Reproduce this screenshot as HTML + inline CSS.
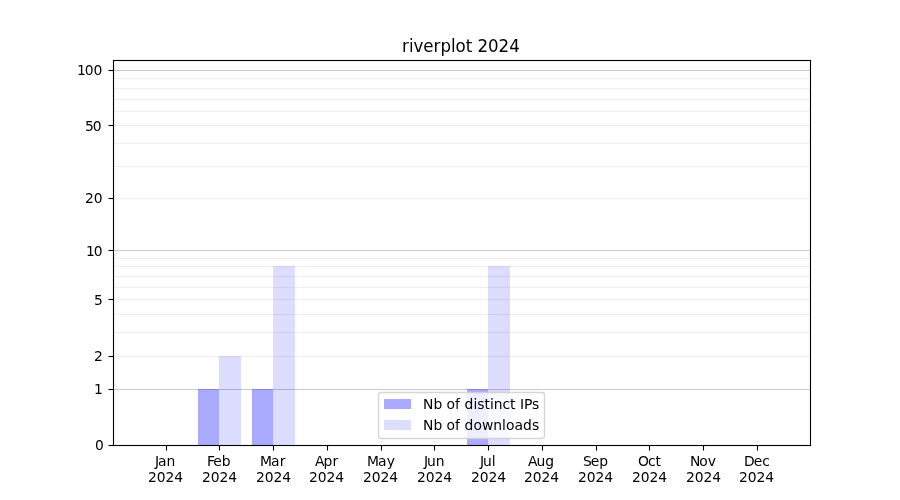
<!DOCTYPE html>
<html lang="en">
<head>
<meta charset="utf-8">
<title>riverplot 2024</title>
<style>
html,body{margin:0;padding:0;background:#fff;overflow:hidden}
svg{display:block;will-change:transform}
text{font-family:"DejaVu Sans","Liberation Sans",sans-serif;font-size:13.889px;fill:#000}
.t{font-size:16.667px}
.m{text-anchor:middle}
.e{text-anchor:end}
.ax{fill:#000}
.g1{fill:#ccc}
.g2{fill:#eee}
.b1{fill:#00f;fill-opacity:0.3333}
.b2{fill:#00f;fill-opacity:0.1333}
</style>
</head>
<body>
<svg width="900" height="500" viewBox="0 0 900 500">
<rect x="0" y="0" width="900" height="500" fill="#fff"/>
<g>
<rect class="g2" x="113.000" y="355.945" width="697.500" height="1.111"/>
<rect class="g2" x="113.000" y="331.945" width="697.500" height="1.111"/>
<rect class="g2" x="113.000" y="313.945" width="697.500" height="1.111"/>
<rect class="g2" x="113.000" y="298.945" width="697.500" height="1.111"/>
<rect class="g2" x="113.000" y="286.945" width="697.500" height="1.111"/>
<rect class="g2" x="113.000" y="275.945" width="697.500" height="1.111"/>
<rect class="g2" x="113.000" y="265.945" width="697.500" height="1.111"/>
<rect class="g2" x="113.000" y="257.945" width="697.500" height="1.111"/>
<rect class="g2" x="113.000" y="197.945" width="697.500" height="1.111"/>
<rect class="g2" x="113.000" y="165.945" width="697.500" height="1.111"/>
<rect class="g2" x="113.000" y="142.945" width="697.500" height="1.111"/>
<rect class="g2" x="113.000" y="124.945" width="697.500" height="1.111"/>
<rect class="g2" x="113.000" y="110.945" width="697.500" height="1.111"/>
<rect class="g2" x="113.000" y="98.945" width="697.500" height="1.111"/>
<rect class="g2" x="113.000" y="87.945" width="697.500" height="1.111"/>
<rect class="g2" x="113.000" y="77.945" width="697.500" height="1.111"/>
<rect class="g1" x="113.000" y="388.945" width="697.500" height="1.111"/>
<rect class="g1" x="113.000" y="249.945" width="697.500" height="1.111"/>
<rect class="g1" x="113.000" y="69.945" width="697.500" height="1.111"/>
</g>
<g>
<rect class="b1" x="198" y="389" width="21" height="56"/>
<rect class="b1" x="252" y="389" width="21" height="56"/>
<rect class="b1" x="467" y="389" width="21" height="56"/>
<rect class="b2" x="219" y="356" width="22" height="89"/>
<rect class="b2" x="273" y="266" width="22" height="179"/>
<rect class="b2" x="488" y="266" width="22" height="179"/>
</g>
<g>
<rect class="ax" x="165.945" y="445.000" width="1.111" height="5.500"/>
<rect class="ax" x="218.945" y="445.000" width="1.111" height="5.500"/>
<rect class="ax" x="272.945" y="445.000" width="1.111" height="5.500"/>
<rect class="ax" x="326.945" y="445.000" width="1.111" height="5.500"/>
<rect class="ax" x="380.945" y="445.000" width="1.111" height="5.500"/>
<rect class="ax" x="433.945" y="445.000" width="1.111" height="5.500"/>
<rect class="ax" x="487.945" y="445.000" width="1.111" height="5.500"/>
<rect class="ax" x="541.944" y="445.000" width="1.111" height="5.500"/>
<rect class="ax" x="595.944" y="445.000" width="1.111" height="5.500"/>
<rect class="ax" x="648.944" y="445.000" width="1.111" height="5.500"/>
<rect class="ax" x="702.944" y="445.000" width="1.111" height="5.500"/>
<rect class="ax" x="756.944" y="445.000" width="1.111" height="5.500"/>
<rect class="ax" x="108.500" y="444.945" width="5.000" height="1.111"/>
<rect class="ax" x="108.500" y="388.945" width="5.000" height="1.111"/>
<rect class="ax" x="108.500" y="355.945" width="5.000" height="1.111"/>
<rect class="ax" x="108.500" y="298.945" width="5.000" height="1.111"/>
<rect class="ax" x="108.500" y="249.945" width="5.000" height="1.111"/>
<rect class="ax" x="108.500" y="197.945" width="5.000" height="1.111"/>
<rect class="ax" x="108.500" y="124.945" width="5.000" height="1.111"/>
<rect class="ax" x="108.500" y="69.945" width="5.000" height="1.111"/>
<rect class="ax" x="112.945" y="59.944" width="1.111" height="386.111"/>
<rect class="ax" x="809.944" y="59.944" width="1.111" height="386.111"/>
<rect class="ax" x="112.945" y="59.944" width="698.111" height="1.111"/>
<rect class="ax" x="112.945" y="444.945" width="698.111" height="1.111"/>
</g>
<g>
<rect x="378.5" y="392.5" width="166" height="46" rx="2.78" ry="2.78" fill="#fff" fill-opacity="0.8" stroke="#ccc" stroke-opacity="0.8" stroke-width="1.389"/>
<rect class="b1" x="384" y="399" width="27" height="10"/>
<rect class="b2" x="384" y="420" width="27" height="10"/>
</g>
<g>
<text x="154.88 157.88 166.50" y="466">Jan</text>
<text x="148.00 156.75 165.50 174.25" y="482">2024</text>
<text x="207.00 213.25 221.75" y="466">Feb</text>
<text x="202.00 210.75 219.50 228.25" y="482">2024</text>
<text x="260.12 271.12 279.75" y="466">Mar</text>
<text x="256.00 264.75 273.50 282.25" y="482">2024</text>
<text x="315.00 323.50 332.38" y="466">Apr</text>
<text x="309.00 317.75 326.50 335.25" y="482">2024</text>
<text x="367.12 378.12 386.75" y="466">May</text>
<text x="363.00 371.75 380.50 389.25" y="482">2024</text>
<text x="424.00 427.00 435.75" y="466">Jun</text>
<text x="417.00 425.75 434.50 443.25" y="482">2024</text>
<text x="480.00 483.00 491.75" y="466">Jul</text>
<text x="471.00 479.75 488.50 497.25" y="482">2024</text>
<text x="528.00 536.50 545.25" y="466">Aug</text>
<text x="524.00 532.75 541.50 550.25" y="482">2024</text>
<text x="583.00 590.75 599.25" y="466">Sep</text>
<text x="578.00 586.75 595.50 604.25" y="482">2024</text>
<text x="638.00 647.88 655.50" y="466">Oct</text>
<text x="632.00 640.75 649.50 658.25" y="482">2024</text>
<text x="689.88 699.25 707.75" y="466">Nov</text>
<text x="686.00 694.75 703.50 712.25" y="482">2024</text>
<text x="744.00 753.75 762.25" y="466">Dec</text>
<text x="739.00 747.75 756.50 765.25" y="482">2024</text>
<text x="94.88" y="450">0</text>
<text x="93.88" y="394">1</text>
<text x="93.88" y="361">2</text>
<text x="93.88" y="305">5</text>
<text x="85.88 93.75" y="256">10</text>
<text x="85.00 93.75" y="203">20</text>
<text x="85.00 92.75" y="131">50</text>
<text x="76.88 84.75 93.50" y="75">100</text>
<text class="t" transform="translate(402.00 52) scale(1 1.04)" x="0.00 6.88 11.50 21.38 31.62 38.50 49.00 53.62 63.75 70.25 75.50 86.12 96.62 107.25">riverplot 2024</text>
<text x="423.00 433.38 442.25 446.62 455.12 460.12 464.50 473.38 477.25 484.38 489.88 493.75 502.50 510.12 515.62 520.00 524.00 532.12" y="409">Nb of distinct IPs</text>
<text x="423.00 433.38 442.25 446.62 455.12 460.12 464.50 473.38 481.88 493.25 502.00 505.88 514.38 523.00 531.88" y="430">Nb of downloads</text>
</g>
</svg>
</body>
</html>
